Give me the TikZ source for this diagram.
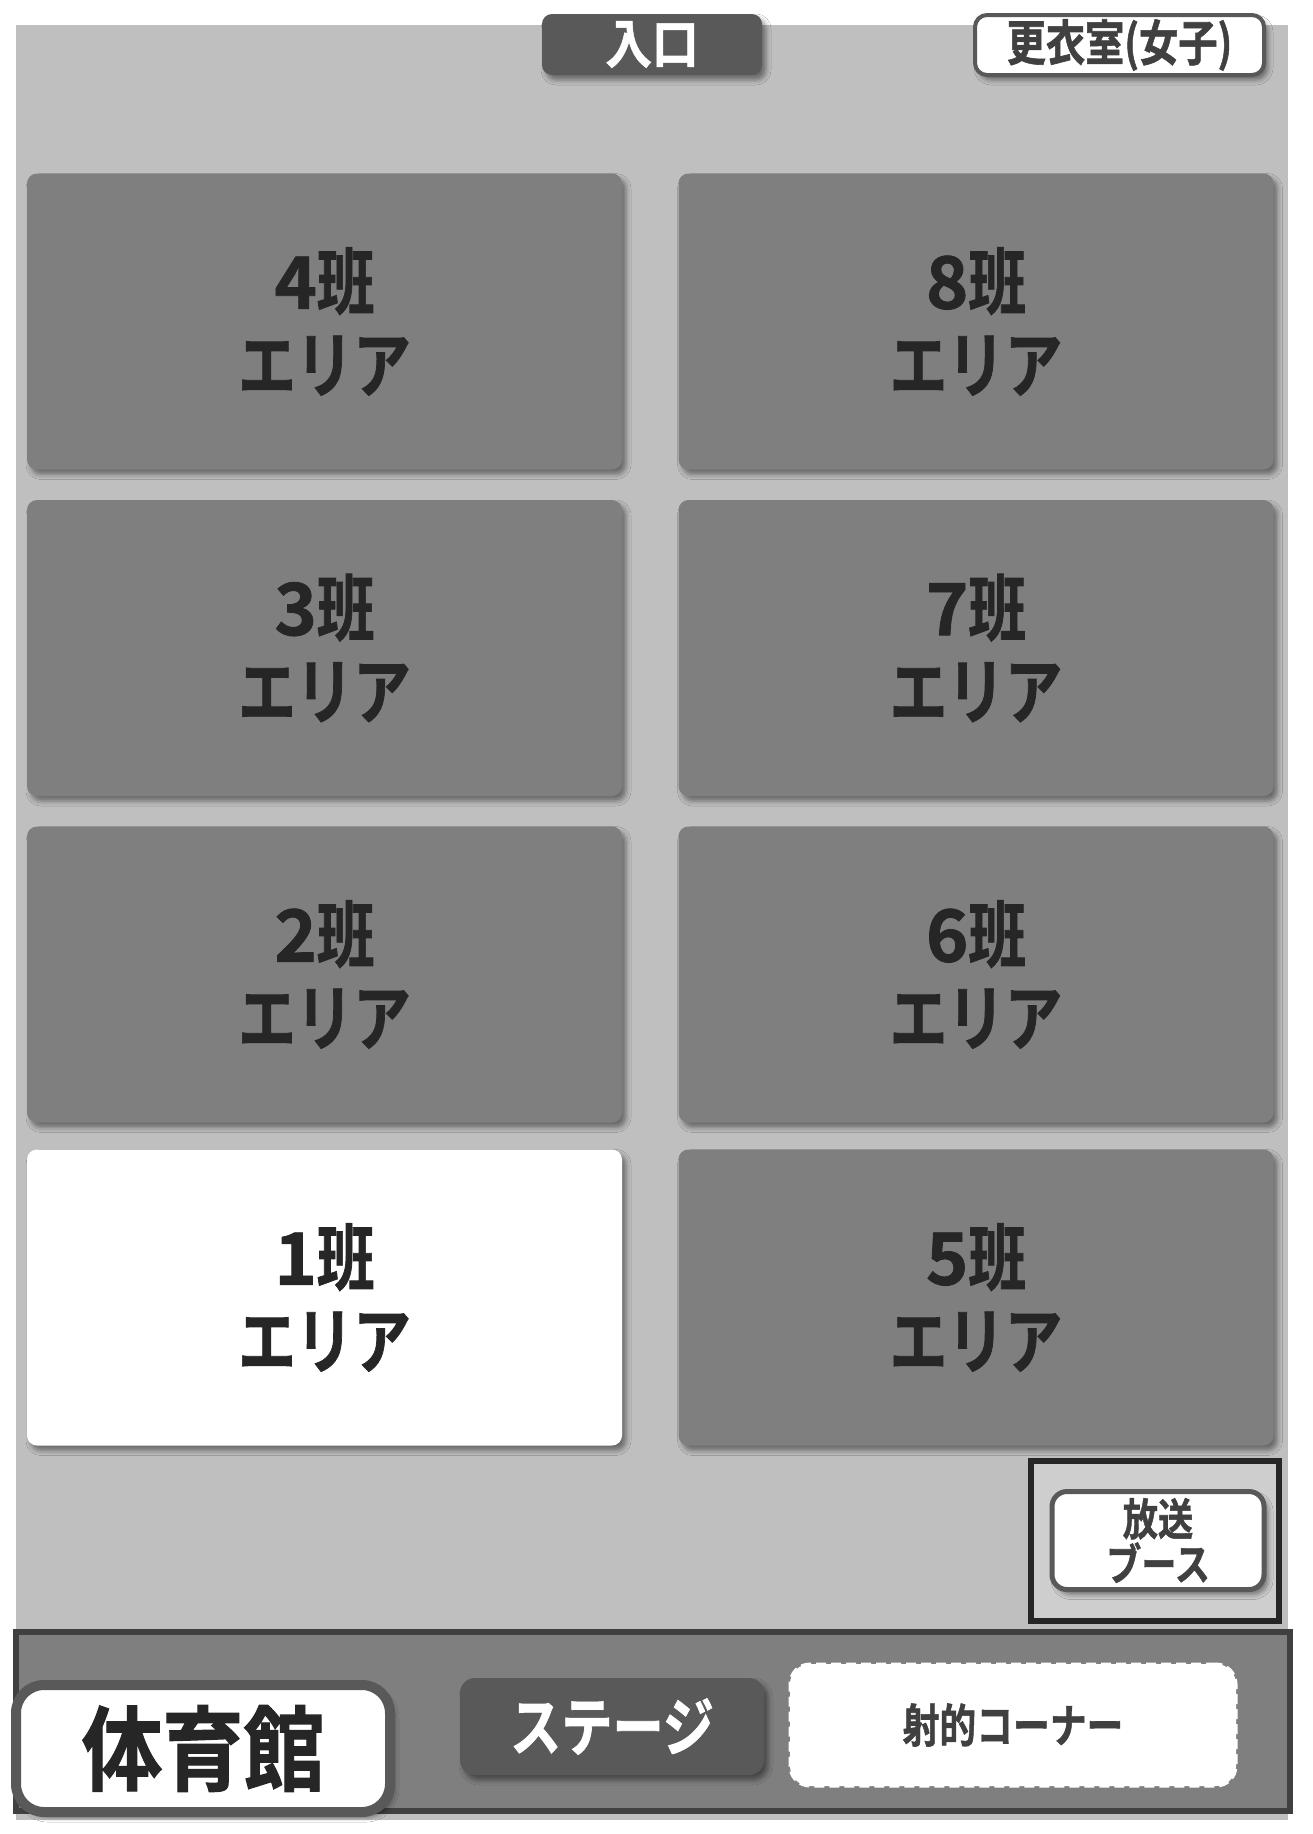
\documentclass[tikz,border=0pt]{standalone}
\usepackage{fontspec}
\usepackage{graphicx}
\setmainfont{Noto Sans CJK JP}[BoldFont={Noto Sans CJK JP Bold}, BoldFeatures={FakeBold=1.2}]
\usetikzlibrary{shadows.blur}
\definecolor{bggray}{HTML}{BFBFBF}
\definecolor{cellgray}{HTML}{7F7F7F}
\definecolor{darkbox}{HTML}{595959}
\definecolor{txtdark}{HTML}{262626}
\definecolor{txtmid}{HTML}{404040}
\definecolor{stageedge}{HTML}{404040}
\definecolor{boothfill}{HTML}{CFCECF}
\newcommand{\cnd}[1]{\scalebox{0.8}[1]{#1}}
\newcommand{\cndw}[1]{\scalebox{0.88}[1]{#1}}
\tikzset{
  shd/.style={blur shadow={shadow xshift=4pt, shadow yshift=-5pt, shadow blur radius=5pt, shadow opacity=45}},
  cell/.style={shd, fill=cellgray, rounded corners=10pt, minimum width=595pt, minimum height=296pt,
    inner sep=0pt, align=center, text=txtdark, font={\bfseries\fontsize{72}{83}\selectfont}},
  whitecell/.style={cell, fill=white},
  darklabel/.style={shd, fill=darkbox, rounded corners=10pt, inner sep=0pt, text=white, font=\bfseries},
  framedlabel/.style={shd, fill=white, draw=darkbox, inner sep=0pt, align=center, font=\bfseries}
}
\begin{document}
\begin{tikzpicture}[x=1pt,y=-1pt]
\useasboundingbox (0,0) rectangle (1312,1834);
\fill[white] (0,0) rectangle (1312,1834);
% gym floor
\fill[bggray] (16,25) rectangle (1288,1820);
% team areas
\node[cell] (c4) at (324.5,321.5) {4\cnd{班}\\\cnd{エリア}};
\node[cell] (c3) at (324.5,648) {3\cnd{班}\\\cnd{エリア}};
\node[cell] (c2) at (324.5,974.5) {2\cnd{班}\\\cnd{エリア}};
\node[whitecell] (c1) at (324.5,1297.5) {1\cnd{班}\\\cnd{エリア}};
\node[cell] (c8) at (976,321.5) {8\cnd{班}\\\cnd{エリア}};
\node[cell] (c7) at (976,648) {7\cnd{班}\\\cnd{エリア}};
\node[cell] (c6) at (976,974.5) {6\cnd{班}\\\cnd{エリア}};
\node[cell] (c5) at (976,1297.5) {5\cnd{班}\\\cnd{エリア}};
% broadcast booth
\draw[fill=boothfill, draw=txtdark, line width=6pt] (1031,1461) rectangle (1279,1621);
\node[framedlabel, line width=5pt, rounded corners=15pt, minimum width=212pt, minimum height=98pt,
  text=txtmid, font={\bfseries\fontsize{44}{45}\selectfont}] (booth) at (1158,1540.5) {\cnd{放送}\\\cnd{ブース}};
% stage area
\draw[fill=cellgray, draw=stageedge, line width=6pt] (16,1632) rectangle (1290,1811);
\node[framedlabel, line width=10pt, rounded corners=28pt, minimum width=374pt, minimum height=127pt,
  text=txtdark, font={\bfseries\fontsize{92}{92}\selectfont}] (gym) at (203,1748.5) {\cndw{体育館}};
\node[darklabel, rounded corners=15pt, minimum width=304pt, minimum height=97pt,
  font={\bfseries\fontsize{64}{64}\selectfont}] (stage) at (612,1726.5) {\cnd{ステージ}};
\node[fill=white, draw=white, line width=3pt, dash pattern=on 10pt off 5pt, rounded corners=20pt,
  minimum width=446pt, minimum height=122pt, inner sep=0pt, text=txtmid,
  font={\bfseries\fontsize{46}{46}\selectfont}] (shoot) at (1013,1725) {\cnd{射的コーナー}};
% top labels
\node[darklabel, minimum width=220pt, minimum height=61pt,
  font={\bfseries\fontsize{53}{53}\selectfont}] (entry) at (652,44.5) {\cndw{入口}};
\node[framedlabel, line width=4pt, rounded corners=12pt, minimum width=289pt, minimum height=60pt,
  text=txtmid, font={\bfseries\fontsize{49}{49}\selectfont}] (locker) at (1119.5,45) {\cnd{更衣室(女子)}};
\end{tikzpicture}
\end{document}
